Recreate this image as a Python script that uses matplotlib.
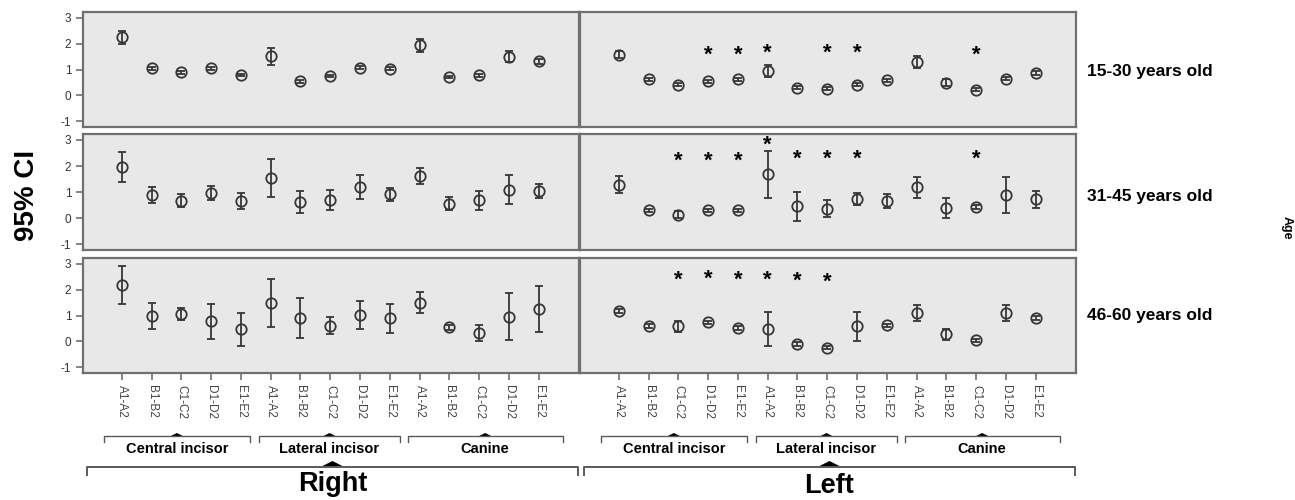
import numpy as np
import matplotlib
matplotlib.use('Agg')
import matplotlib.pyplot as plt
from matplotlib.transforms import blended_transform_factory, offset_copy

plt.rcParams['font.family'] = ['Liberation Sans', 'DejaVu Sans']
plt.rcParams['axes.unicode_minus'] = False

pairs = ['A1-A2', 'B1-B2', 'C1-C2', 'D1-D2', 'E1-E2'] * 3
teeth = ['Central incisor', 'Lateral incisor', 'Canine']
sides = ['Right', 'Left']
ages = ['15-30 years old', '31-45 years old', '46-60 years old']

# mean and half width of the 95% CI, one list per age group and side
mean_15_right = [2.25, 1.05, 0.90, 1.05, 0.80, 1.52, 0.55, 0.75, 1.07, 1.03, 1.95, 0.72, 0.78, 1.50, 1.33]
ci_15_right = [0.24, 0.05, 0.05, 0.05, 0.05, 0.33, 0.06, 0.05, 0.06, 0.06, 0.25, 0.05, 0.05, 0.22, 0.10]
mean_15_left = [1.58, 0.62, 0.42, 0.55, 0.62, 0.95, 0.30, 0.26, 0.42, 0.58, 1.30, 0.50, 0.23, 0.65, 0.87]
ci_15_left = [0.13, 0.06, 0.05, 0.05, 0.05, 0.22, 0.05, 0.05, 0.07, 0.06, 0.23, 0.15, 0.05, 0.07, 0.06]

mean_31_right = [1.97, 0.88, 0.67, 0.97, 0.66, 1.55, 0.63, 0.70, 1.19, 0.92, 1.62, 0.56, 0.68, 1.10, 1.04]
ci_31_right = [0.57, 0.30, 0.24, 0.27, 0.29, 0.73, 0.42, 0.40, 0.46, 0.25, 0.29, 0.26, 0.37, 0.55, 0.28]
mean_31_left = [1.28, 0.31, 0.14, 0.31, 0.31, 1.68, 0.45, 0.37, 0.73, 0.66, 1.19, 0.40, 0.43, 0.89, 0.72]
ci_31_left = [0.32, 0.06, 0.12, 0.06, 0.06, 0.90, 0.55, 0.32, 0.22, 0.28, 0.40, 0.38, 0.08, 0.70, 0.32]

mean_46_right = [2.19, 0.99, 1.05, 0.78, 0.47, 1.49, 0.92, 0.60, 1.03, 0.89, 1.50, 0.55, 0.33, 0.95, 1.26]
ci_46_right = [0.74, 0.50, 0.23, 0.68, 0.63, 0.94, 0.78, 0.33, 0.55, 0.57, 0.40, 0.10, 0.32, 0.91, 0.90]
mean_46_left = [1.19, 0.59, 0.58, 0.74, 0.53, 0.47, -0.09, -0.24, 0.58, 0.62, 1.10, 0.27, 0.04, 1.10, 0.91]
ci_46_left = [0.07, 0.08, 0.20, 0.07, 0.07, 0.66, 0.07, 0.05, 0.57, 0.05, 0.30, 0.22, 0.07, 0.32, 0.08]

# significance marks: (pair index, height)
stars_15_left = [(3, 1.70), (4, 1.70), (5, 1.78), (7, 1.76), (8, 1.76), (12, 1.70)]
stars_31_left = [(2, 2.32), (3, 2.32), (4, 2.32), (5, 2.94), (6, 2.38), (7, 2.38), (8, 2.38), (12, 2.38)]
stars_46_left = [(2, 2.52), (3, 2.55), (4, 2.52), (5, 2.52), (6, 2.47), (7, 2.42)]

means = [[mean_15_right, mean_15_left], [mean_31_right, mean_31_left], [mean_46_right, mean_46_left]]
cis = [[ci_15_right, ci_15_left], [ci_31_right, ci_31_left], [ci_46_right, ci_46_left]]
stars = [[[], stars_15_left], [[], stars_31_left], [[], stars_46_left]]

W, H = 1295, 500
fig = plt.figure(figsize=(W / 100, H / 100), dpi=100)

col_left = [83, 580]
col_w = 496
row_top = [12, 134, 258]
row_h = [115, 116, 115]
label_y = [0.48, 0.46, 0.50]

dark = '#363636'
frame = '#707070'
x = np.arange(len(pairs))

bottom_axes = []
for r in range(3):
    for c in range(2):
        ax = fig.add_axes([col_left[c] / W, 1 - (row_top[r] + row_h[r]) / H,
                           col_w / W, row_h[r] / H])
        ax.set_facecolor('#e8e8e8')
        ax.errorbar(x, means[r][c], yerr=cis[r][c], fmt='o', ms=7.5, mfc='none',
                    mec=dark, mew=1.3, ecolor=dark, elinewidth=1.3,
                    capsize=3, capthick=1.3)
        # the asterisk glyph sits high in its box, so nudge it down a little
        star_tr = offset_copy(ax.transData, fig=fig, y=-3.5, units='dots')
        for i, h in stars[r][c]:
            ax.text(i, h, '*', ha='center', va='center', fontsize=16,
                    fontweight='bold', color='black', transform=star_tr)
        ax.set_xlim(-1.3, 15.35)
        ax.set_ylim(-1.22, 3.23)
        for s in ax.spines.values():
            s.set_color(frame)
            s.set_linewidth(1.6)
        ax.tick_params(colors='#333333', labelsize=8.5, length=5, width=1.2,
                       direction='out')
        ax.set_yticks([-1, 0, 1, 2, 3])
        ax.set_xticks(x)
        if c == 0:
            ax.tick_params(axis='y', colors=frame, labelcolor='#333333')
        else:
            ax.tick_params(axis='y', left=False, labelleft=False)
        if r == 2:
            ax.set_xticklabels(pairs, rotation=-90, fontsize=8.5, color='#444444')
            ax.tick_params(axis='x', colors=frame, labelcolor='#444444')
            bottom_axes.append(ax)
        else:
            ax.tick_params(axis='x', bottom=False, labelbottom=False)
        if c == 1:
            ax.text(1 + 11 / col_w, label_y[r], ages[r], transform=ax.transAxes,
                    ha='left', va='center', fontsize=12.5, fontweight='bold')

# group brackets under the x axis
groups = [(-0.6, 4.3), (4.6, 9.35), (9.6, 14.8)]
side_span = (-1.15, 15.3)
line_col = '#5a5a5a'


def bracket(ax, x0, x1, yline, drop, tri_w, tri_h, lw):
    tr = blended_transform_factory(ax.transData, fig.transFigure)
    y = 1 - yline / H
    ax.plot([x0, x0, x1, x1], [y - drop / H, y, y, y - drop / H], color=line_col,
            lw=lw, transform=tr, clip_on=False)
    xc = (x0 + x1) / 2
    ax.fill([xc - tri_w, xc, xc + tri_w], [y, y + tri_h / H, y], color='black',
            transform=tr, clip_on=False, lw=0)
    return xc


side_y = [484, 486]
for c, ax in enumerate(bottom_axes):
    tr = blended_transform_factory(ax.transData, fig.transFigure)
    for (g0, g1), name in zip(groups, teeth):
        xc = bracket(ax, g0, g1, 436, 6, 0.2, 3, 1.0)
        ax.text(xc, 1 - 449 / H, name, transform=tr, ha='center', va='center',
                fontsize=10.5, fontweight='bold')
    xc = bracket(ax, side_span[0], side_span[1], 467, 8, 0.4, 6, 1.4)
    ax.text(xc, 1 - side_y[c] / H, sides[c], transform=tr, ha='center',
            va='center', fontsize=19.5, fontweight='bold')

fig.text(27 / W, 1 - 195 / H, '95% CI', rotation=90, ha='center', va='center',
         fontsize=20, fontweight='bold')
fig.text(1287 / W, 1 - 228 / H, 'Age', rotation=-90, ha='center', va='center',
         fontsize=9, fontweight='bold')

fig.savefig('out.png', dpi=100)
